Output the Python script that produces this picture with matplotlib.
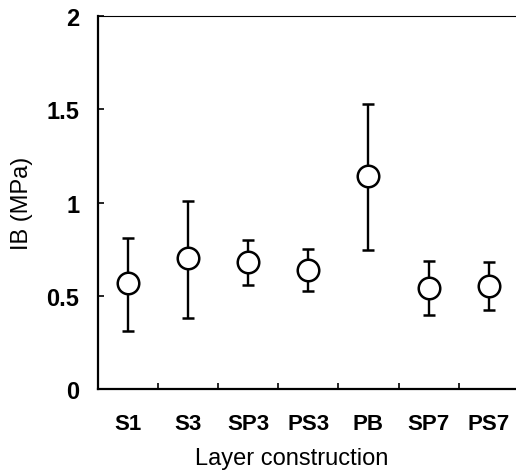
import matplotlib
matplotlib.use("Agg")
import matplotlib.pyplot as plt
import numpy as np

plt.rcParams['font.family'] = ['Liberation Sans', 'DejaVu Sans']

# data
layers = ["S1", "S3", "SP3", "PS3", "PB", "SP7", "PS7"]
ib_mean = [0.567, 0.703, 0.680, 0.640, 1.142, 0.540, 0.555]
ib_low = [0.310, 0.383, 0.560, 0.528, 0.746, 0.399, 0.424]
ib_high = [0.812, 1.010, 0.800, 0.753, 1.528, 0.689, 0.683]

x = np.arange(1, len(layers) + 1)
mean = np.array(ib_mean)
yerr = [mean - np.array(ib_low), np.array(ib_high) - mean]

fig = plt.figure(figsize=(5.16, 4.77), dpi=100)
ax = fig.add_axes([0.189, 0.182, 0.811, 0.782])

ax.errorbar(x, mean, yerr=yerr, fmt='o', ms=15.5, mfc='white', mec='black',
            mew=1.8, ecolor='black', elinewidth=1.7, capsize=4.5, capthick=1.8)

ax.set_xlim(0.5, 7.45)
ax.set_ylim(0, 2)
ax.set_yticks([0, 0.5, 1, 1.5, 2])
ax.set_yticklabels(["0", "0.5", "1", "1.5", "2"])
ax.set_xticks(x)
ax.set_xticklabels(layers)
# tick marks sit between categories
ax.set_xticks(np.arange(1.5, 7.5, 1), minor=True)
ax.tick_params(axis='x', which='major', length=0, pad=17, labelsize=16)
ax.tick_params(axis='x', which='minor', direction='in', length=4, width=1.2)
ax.tick_params(axis='y', direction='in', length=4, width=1.2, pad=13, labelsize=17)
for lab in ax.get_xticklabels() + ax.get_yticklabels():
    lab.set_fontweight('bold')

ax.spines['left'].set_linewidth(1.6)
ax.spines['bottom'].set_linewidth(1.6)
ax.spines['top'].set_linewidth(0.8)
ax.spines['right'].set_linewidth(0.6)
ax.spines['right'].set_color('#999999')
ax.spines['right'].set_linestyle((0, (2, 2)))

ax.set_ylabel("IB (MPa)", fontsize=17)
ax.set_xlabel("Layer construction", fontsize=17)
ax.yaxis.set_label_coords(-0.155, 0.5)
ax.xaxis.set_label_coords(0.464, -0.155)

fig.savefig("out.png", dpi=100)
